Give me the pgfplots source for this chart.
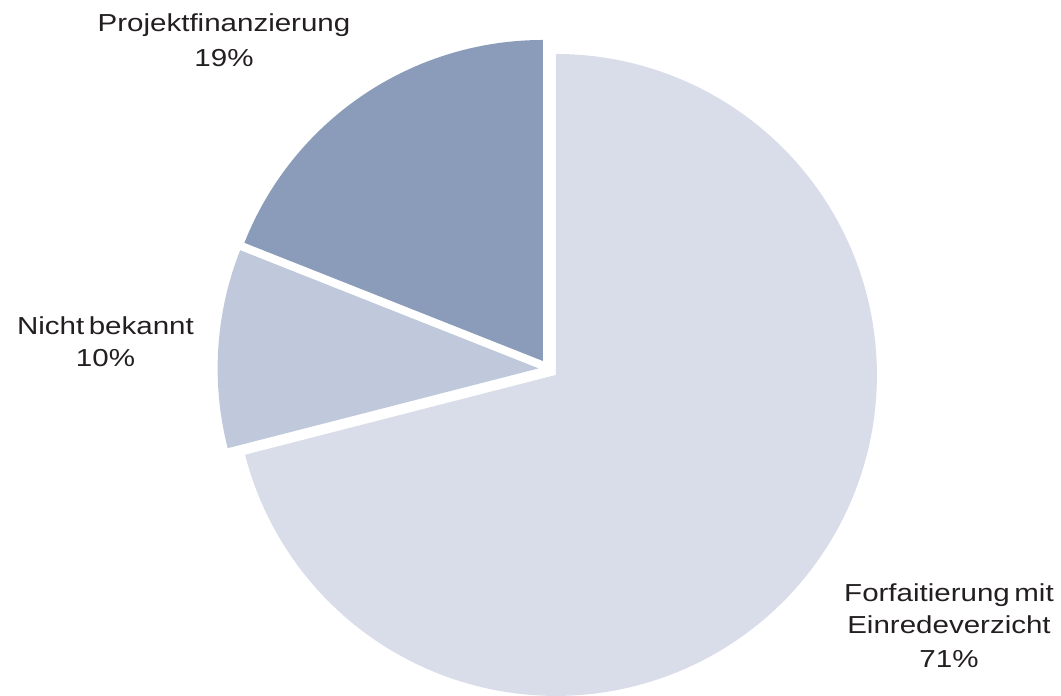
\documentclass[border=0pt]{standalone}
\usepackage{pgfplots}
\pgfplotsset{compat=1.18}
\usepackage{fontspec}
\setmainfont{Liberation Sans}[FakeStretch=1.2, WordSpace=0.55]
\definecolor{cbig}{RGB}{217,221,233}
\definecolor{cnic}{RGB}{192,201,220}
\definecolor{cpro}{RGB}{138,156,185}
\definecolor{ctxt}{RGB}{35,31,32}
\begin{document}
\begin{tikzpicture}
% slice values in percent
\def\vA{71}% Forfaitierung mit Einredeverzicht
\def\vB{10}% Nicht bekannt
\def\vC{19}% Projektfinanzierung
\pgfmathsetmacro{\R}{321}
\pgfmathsetmacro{\cx}{548.3}
\pgfmathsetmacro{\cy}{327}
\pgfmathsetmacro{\d}{9.7}
% angles (clockwise from 90)
\pgfmathsetmacro{\sA}{90}
\pgfmathsetmacro{\eA}{90-\vA*3.6}
\pgfmathsetmacro{\eB}{\eA-\vB*3.6}
\pgfmathsetmacro{\eC}{\eB-\vC*3.6}
\pgfmathsetmacro{\mA}{(\sA+\eA)/2}
\pgfmathsetmacro{\mB}{(\eA+\eB)/2}
\pgfmathsetmacro{\mC}{(\eB+\eC)/2}
\pgfmathsetmacro{\xA}{\cx+\d*cos(\mA)}\pgfmathsetmacro{\yA}{\cy+\d*sin(\mA)}
\pgfmathsetmacro{\xB}{\cx+\d*cos(\mB)}\pgfmathsetmacro{\yB}{\cy+\d*sin(\mB)}
\pgfmathsetmacro{\xC}{\cx+\d*cos(\mC)}\pgfmathsetmacro{\yC}{\cy+\d*sin(\mC)}
\begin{axis}[
  x=0.5pt, y=0.5pt,
  xmin=0, xmax=1061, ymin=0, ymax=696,
  hide axis, clip=false, enlargelimits=false,
]
\path (axis cs:0,0) rectangle (axis cs:1061,696);
\addplot[fill=cbig, draw=none, domain=\eA:\sA, samples=150, variable=\t]
  ({\xA+\R*cos(\t)}, {\yA+\R*sin(\t)}) -- (axis cs:\xA,\yA) -- cycle;
\addplot[fill=cnic, draw=none, domain=\eB:\eA, samples=40, variable=\t]
  ({\xB+\R*cos(\t)}, {\yB+\R*sin(\t)}) -- (axis cs:\xB,\yB) -- cycle;
\addplot[fill=cpro, draw=none, domain=\eC:\eB, samples=60, variable=\t]
  ({\xC+\R*cos(\t)}, {\yC+\R*sin(\t)}) -- (axis cs:\xC,\yC) -- cycle;
\begin{scope}[every node/.style={anchor=base, text=ctxt, font=\fontsize{12.3pt}{14pt}\selectfont, inner sep=0pt}]
\node at (axis cs:224,{696-32}) {Projektfinanzierung};
\node at (axis cs:224,{696-67}) {19\%};
\node at (axis cs:105.5,{696-335}) {Nicht bekannt};
\node at (axis cs:105.5,{696-367}) {10\%};
\node at (axis cs:949,{696-602}) {Forfaitierung mit};
\node at (axis cs:949,{696-634}) {Einredeverzicht};
\node at (axis cs:949,{696-668}) {71\%};
\end{scope}
\end{axis}
\end{tikzpicture}
\end{document}
